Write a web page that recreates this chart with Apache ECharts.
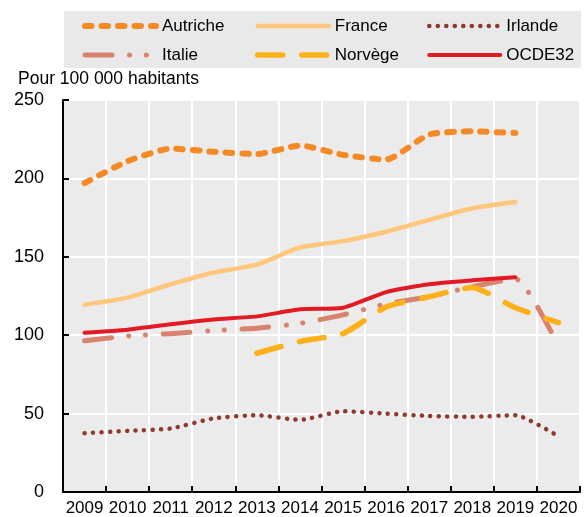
<!DOCTYPE html>
<html>
<head>
<meta charset="utf-8">
<script src="https://cdn.jsdelivr.net/npm/echarts@6/dist/echarts.min.js"></script>
<style>
  html, body { margin: 0; padding: 0; background: #fff; }
  #chart { width: 584px; height: 517px; }
</style>
</head>
<body>
<div id="chart"></div>
<script>
var years = ['2009', '2010', '2011', '2012', '2013', '2014', '2015', '2016', '2017', '2018', '2019', '2020'];
var autriche = [197, 211, 219, 217, 215.5, 221, 215, 212, 228, 230, 229, null];
var france = [119.5, 124, 132.5, 140, 145, 156, 160, 166, 173.5, 181, 185, null];
var irlande = [37.5, 39, 40.5, 47, 49, 46, 51.5, 50, 48.5, 48, 49, 35.5];
var italie = [96.5, 99.5, 101, 103, 104.5, 107.5, 113, 120, 124.5, 131, 136, 93];
var norvege = [null, null, null, null, 88.5, 96, 101, 118, 124.5, 130.5, 117.5, 108];
var ocde = [101.5, 103.5, 107, 110, 112, 116.5, 117.5, 127.5, 132.5, 135, 137, null];
var yTicks = [0, 50, 100, 150, 200, 250];

var FONT = "'Liberation Sans', Arial, sans-serif";

var styles = {
  'Autriche': { color: '#f58a24', width: 6, type: [6.5, 10] },
  'France': { color: '#ffc67c', width: 4.5, type: 'solid' },
  'Irlande': { color: '#8e3a2c', width: 4.5, type: [0.1, 8.4] },
  'Italie': { color: '#d9836f', width: 5, type: [27, 17.5, 0.1, 16.7, 0.1, 17.5] },
  'Norvège': { color: '#fdb018', width: 5.5, type: [25, 19] },
  'OCDE32': { color: '#e21a23', width: 4, type: 'solid' }
};

var chartDom = document.getElementById('chart');
var myChart = echarts.init(chartDom);

function lineStyleOf(name) {
  var s = styles[name];
  return { color: s.color, width: s.width, type: s.type, cap: 'round', join: 'round' };
}

function line(name, data) {
  return {
    name: name,
    type: 'line',
    data: data,
    symbol: 'none',
    smooth: 0.18,
    lineStyle: lineStyleOf(name),
    itemStyle: { color: styles[name].color },
    emphasis: { disabled: true }
  };
}

function legendCol(left, names) {
  return {
    orient: 'vertical',
    left: left,
    top: 11,
    itemWidth: 71,
    itemHeight: 14,
    itemGap: 9,
    selectedMode: false,
    itemStyle: { opacity: 0 },
    data: names.map(function (n) {
      return { name: n, lineStyle: lineStyleOf(n), itemStyle: { opacity: 0 } };
    }),
    textStyle: { fontFamily: FONT, fontSize: 17, color: '#000', padding: [0, 0, 0, 1], lineHeight: 20 }
  };
}

var option = {
  animation: false,
  backgroundColor: '#fff',
  graphic: [
    { type: 'rect', shape: { x: 64, y: 11, width: 517, height: 57 }, style: { fill: '#e9e9e9' }, z: -10 },
    { type: 'text', x: 18, y: 79, style: { text: 'Pour 100 000 habitants', font: '17.5px ' + FONT, fill: '#000', verticalAlign: 'middle' } }
  ],
  legend: [
    legendCol(77, ['Autriche', 'Italie']),
    legendCol(250, ['France', 'Norvège']),
    legendCol(422, ['Irlande', 'OCDE32'])
  ],
  grid: {
    left: 63, top: 100, right: 4, bottom: 25,
    show: true, backgroundColor: '#ebebeb', borderWidth: 0
  },
  xAxis: {
    type: 'category',
    data: years,
    boundaryGap: true,
    axisLine: { lineStyle: { color: '#000', width: 2 } },
    axisTick: { show: true, inside: true, length: 6, lineStyle: { color: '#000', width: 2 } },
    axisLabel: { color: '#000', fontFamily: FONT, fontSize: 17, margin: 8, interval: 0 },
    splitLine: { show: true, interval: 0, lineStyle: { color: '#fff', width: 2 } }
  },
  yAxis: {
    type: 'value',
    min: yTicks[0],
    max: yTicks[yTicks.length - 1],
    interval: 50,
    axisLine: { show: true, lineStyle: { color: '#000', width: 2 } },
    axisTick: { show: true, inside: true, length: 6, lineStyle: { color: '#000', width: 2 } },
    axisLabel: { color: '#000', fontFamily: FONT, fontSize: 18, margin: 19 },
    splitLine: { show: true, lineStyle: { color: '#fff', width: 2 } }
  },
  series: [
    line('Autriche', autriche),
    line('France', france),
    line('Irlande', irlande),
    line('Italie', italie),
    line('Norvège', norvege),
    line('OCDE32', ocde)
  ]
};

myChart.setOption(option);
</script>
</body>
</html>
